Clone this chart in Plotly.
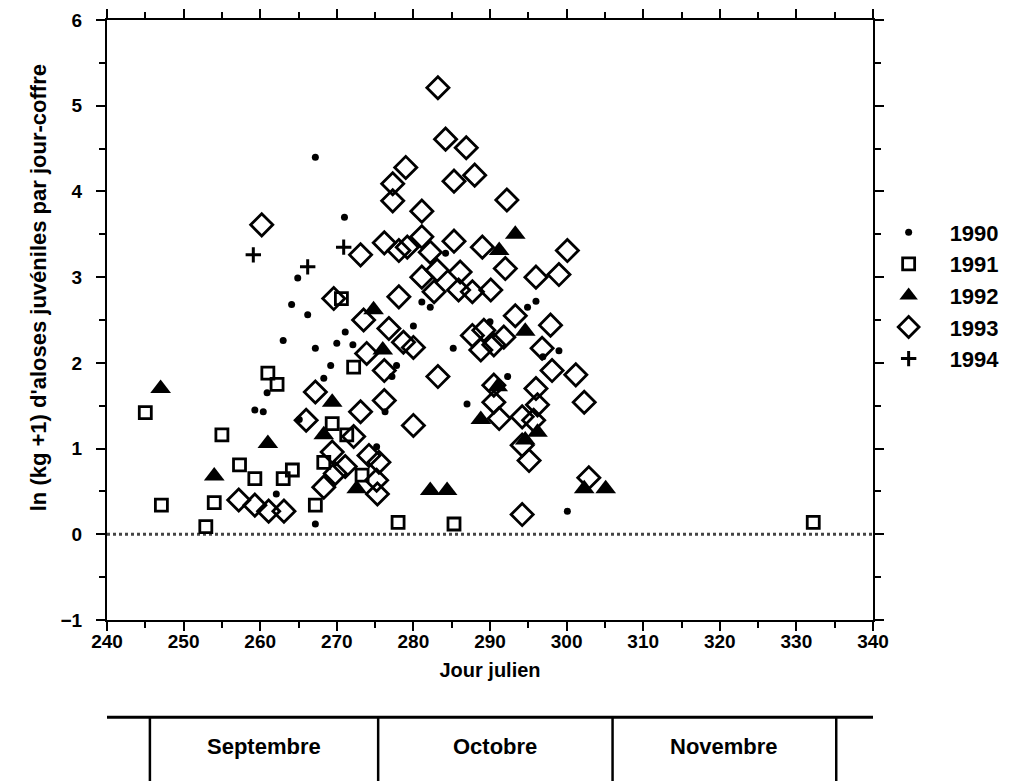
import plotly.graph_objects as go

# ---- data (Julian day, ln(kg+1)) ----
x1990 = [259.3, 260.4, 260.9, 263.0, 264.1, 264.9, 265.1, 262.1, 267.2, 271.0, 266.2, 267.2,
         268.3, 269.2, 270.0, 271.1, 272.1, 276.3, 275.2, 267.2, 277.8, 277.2, 280.0, 281.1,
         282.2, 284.2, 285.2, 287.0, 290.0, 292.3, 294.9, 296.0, 296.9, 299.0, 300.1]
y1990 = [1.45, 1.43, 1.65, 2.26, 2.68, 2.99, 1.34, 0.47, 4.40, 3.70, 2.56, 2.17,
         1.82, 1.97, 2.23, 2.36, 2.21, 1.43, 1.02, 0.12, 1.97, 1.84, 2.43, 2.71,
         2.65, 3.28, 2.17, 1.52, 2.48, 1.84, 2.65, 2.72, 2.07, 2.14, 0.27]

x1991 = [245.0, 247.1, 252.9, 254.0, 255.0, 257.3, 259.3, 261.0, 262.2, 263.0, 264.2,
         267.2, 268.3, 269.4, 270.6, 271.3, 272.2, 273.3, 278.0, 285.3, 332.2]
y1991 = [1.42, 0.34, 0.09, 0.37, 1.16, 0.81, 0.65, 1.88, 1.75, 0.65, 0.75,
         0.34, 0.84, 1.29, 2.75, 1.16, 1.95, 0.69, 0.14, 0.12, 0.14]

x1992 = [247.0, 254.0, 261.0, 268.3, 269.4, 272.6, 274.8, 276.0, 282.2, 284.4, 288.8,
         291.2, 293.3, 294.6, 291.0, 296.2, 294.6, 302.3, 305.1]
y1992 = [1.70, 0.68, 1.06, 1.16, 1.54, 0.53, 2.62, 2.15, 0.51, 0.51, 1.34,
         3.31, 3.50, 2.37, 1.72, 1.19, 1.10, 0.53, 0.53]

x1993 = [260.2, 257.2, 259.3, 261.1, 263.1, 266.0, 267.2, 268.3, 269.4, 269.6, 269.8,
         271.1, 272.2, 273.1, 273.1, 273.5, 273.9, 274.2, 275.2, 275.3, 275.5, 276.2,
         276.2, 276.2, 276.8, 277.3, 277.3, 278.1, 278.1, 278.7, 279.0, 279.2, 280.0,
         280.0, 281.1, 281.1, 281.1, 282.2, 282.7, 283.2, 283.1, 283.2, 284.2, 285.3,
         285.3, 286.1, 285.9, 286.9, 287.7, 288.0, 289.0, 287.7, 288.8, 289.2, 290.1,
         290.5, 290.5, 290.5, 291.2, 291.8, 292.2, 292.0, 293.3, 294.2, 294.2, 294.2,
         295.1, 295.7, 296.0, 296.0, 296.2, 296.8, 297.9, 298.1, 299.0, 300.1, 301.2,
         302.3, 302.9]
y1993 = [3.61, 0.40, 0.34, 0.27, 0.27, 1.33, 1.66, 0.55, 0.96, 2.75, 0.71,
         0.79, 1.14, 3.26, 1.43, 2.50, 2.11, 0.92, 0.63, 0.47, 0.84, 3.40,
         1.91, 1.56, 2.40, 4.09, 3.89, 3.31, 2.77, 2.24, 4.28, 3.35, 2.18,
         1.27, 3.77, 3.47, 3.00, 3.29, 2.83, 5.21, 3.08, 1.84, 4.61, 4.12,
         3.42, 3.06, 2.85, 4.51, 2.83, 4.19, 3.35, 2.32, 2.15, 2.38, 2.85,
         2.21, 1.74, 1.54, 1.35, 2.30, 3.90, 3.10, 2.55, 1.37, 1.04, 0.23,
         0.86, 1.33, 3.00, 1.70, 1.51, 2.17, 2.44, 1.91, 3.03, 3.31, 1.86,
         1.54, 0.66]

x1994 = [259.1, 266.2, 270.9]
y1994 = [3.26, 3.12, 3.35]

years = ["1990", "1991", "1992", "1993", "1994"]
months = ["Septembre", "Octobre", "Novembre"]
month_bounds = [245.6, 275.4, 306.0, 335.2]

FONT = "Liberation Sans, Arial, sans-serif"

fig = go.Figure()
series = [
    (x1990, y1990, dict(symbol="circle", size=7, color="black")),
    (x1991, y1991, dict(symbol="square-open", size=12, color="black", line=dict(width=2.8, color="black"))),
    (x1992, y1992, dict(symbol="triangle-up", size=18, color="black")),
    (x1993, y1993, dict(symbol="diamond-open", size=17, color="black", line=dict(width=2.8, color="black"))),
    (x1994, y1994, dict(symbol="cross-thin-open", size=11, color="black", line=dict(width=3, color="black"))),
]
for i, (xs, ys, mk) in enumerate(series):
    fig.add_trace(go.Scatter(x=xs, y=ys, mode="markers", name=years[i], marker=mk,
                             legendgroup=years[i], cliponaxis=False))

# zero line
fig.add_shape(type="line", xref="x", yref="y", x0=240, x1=340, y0=0, y1=0,
              line=dict(color="#444444", width=3, dash="dot"), layer="below")

# month table
fig.add_shape(type="line", xref="x", yref="paper", x0=240, x1=340, y0=-0.162, y1=-0.162,
              line=dict(color="black", width=3))
for b in month_bounds:
    fig.add_shape(type="line", xref="x", yref="paper", x0=b, x1=b, y0=-0.162, y1=-0.30,
                  line=dict(color="black", width=2.5))
for i, m in enumerate(months):
    cx = (month_bounds[i] + month_bounds[i + 1]) / 2
    fig.add_annotation(x=cx, y=-0.235, xref="x", yref="paper", text=m, showarrow=False,
                       font=dict(family=FONT, size=22, color="black", weight="bold"))

# y-axis title as annotation
fig.add_annotation(x=-0.09, y=0.553, xref="paper", yref="paper", textangle=-90,
                   text="ln (kg +1) d'aloses juvéniles par jour-coffre", showarrow=False,
                   xanchor="center", yanchor="middle",
                   font=dict(family=FONT, size=22, color="black", weight="bold"))

tickfont = dict(family=FONT, size=19, color="black", weight="bold")
axis_common = dict(showline=True, linecolor="black", linewidth=2, mirror="ticks",
                   ticks="outside", tickcolor="black", tickwidth=2, ticklen=9,
                   showgrid=False, zeroline=False, automargin=False, tickfont=tickfont)

fig.update_xaxes(range=[240, 340], dtick=10, tick0=240, ticklabelstandoff=-6,
                 minor=dict(dtick=5, ticks="outside", ticklen=6, tickcolor="black", tickwidth=2, showgrid=False),
                 title=dict(text="Jour julien", font=dict(family=FONT, size=20, color="black", weight="bold"), standoff=12),
                 **axis_common)
fig.update_yaxes(range=[-1, 6], dtick=1, tick0=0, ticklabelstandoff=10,
                 minor=dict(dtick=0.5, ticks="outside", ticklen=6, tickcolor="black", tickwidth=2, showgrid=False),
                 **axis_common)

fig.update_layout(
    width=1023, height=781,
    margin=dict(l=99, r=158, t=12, b=169),
    paper_bgcolor="white", plot_bgcolor="white",
    showlegend=True,
    legend=dict(x=0.993, xanchor="left", y=0.681, yanchor="top",
                font=dict(family=FONT, size=22, color="black", weight="bold"),
                tracegroupgap=0, bgcolor="rgba(0,0,0,0)", itemwidth=72),
)

fig.write_html("out.html")
